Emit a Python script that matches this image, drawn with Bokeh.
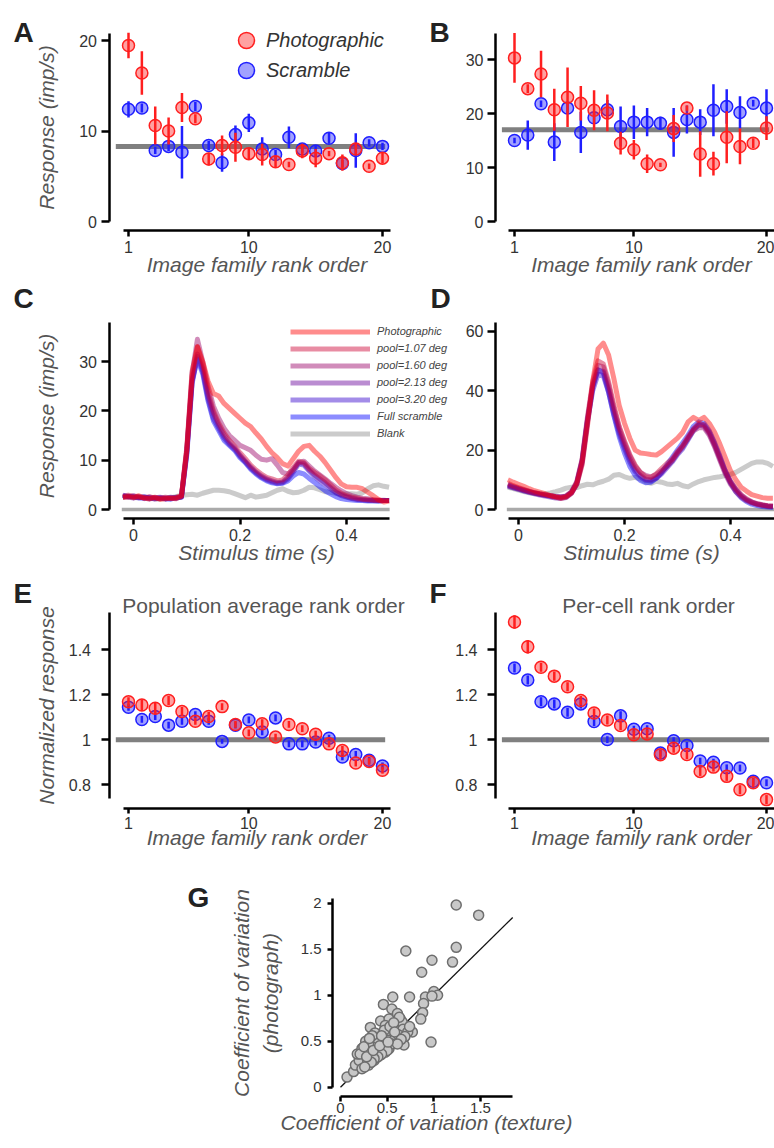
from bokeh.plotting import figure
from bokeh.models import (Label, Legend, LegendItem, ColumnDataSource, FixedTicker,
                          CustomJSTickFormatter, Range1d)
from bokeh.layouts import row, column
from bokeh.embed import file_html
from bokeh.resources import INLINE

# ---------------- data ----------------
rank = [1, 2, 3, 4, 5, 6, 7, 8, 9, 10, 11, 12, 13, 14, 15, 16, 17, 18, 19, 20]

A_photo = [19.45, 16.4, 10.6, 10.0, 12.6, 11.35, 6.9, 8.4, 8.2, 7.5, 7.4, 6.6, 6.3, 7.8, 7.0, 7.5, 6.5, 8.0, 6.1, 7.0]
A_photo_err = [1.4, 2.4, 2.1, 1.5, 1.6, 0.5, 0.7, 1.1, 1.6, 0.6, 1.2, 0.6, 0.3, 0.8, 1.0, 0.3, 0.9, 0.6, 0.3, 0.6]
A_scr = [12.4, 12.55, 7.85, 8.3, 7.65, 12.7, 8.4, 6.5, 9.6, 10.9, 8.0, 7.4, 9.3, 8.0, 7.8, 9.2, 6.4, 7.85, 8.7, 8.3]
A_scr_err = [0.9, 0.5, 0.4, 0.5, 2.9, 0.5, 0.5, 1.0, 1.0, 1.0, 1.3, 0.5, 1.2, 0.4, 0.6, 0.6, 0.4, 1.9, 0.4, 0.4]
A_mean = 8.3

B_photo = [30.3, 24.6, 27.3, 20.7, 23.0, 21.9, 20.6, 20.1, 14.5, 13.3, 10.7, 10.5, 17.2, 21.0, 12.5, 10.7, 15.6, 13.9, 14.5, 17.3]
B_photo_err = [4.6, 0.8, 4.3, 3.9, 5.5, 3.2, 3.7, 3.4, 2.1, 1.8, 1.7, 0.4, 2.5, 0.5, 4.2, 2.2, 4.8, 3.3, 0.9, 2.2]
B_scr = [15.0, 16.0, 21.8, 14.7, 21.0, 16.5, 19.2, 20.7, 17.6, 18.4, 18.4, 18.2, 16.5, 18.9, 18.4, 20.6, 21.3, 20.2, 21.9, 21.0]
B_scr_err = [0.5, 2.7, 0.6, 3.5, 1.0, 3.8, 1.0, 1.8, 3.7, 3.1, 2.6, 1.2, 4.5, 2.6, 2.4, 4.8, 3.2, 3.0, 0.6, 3.5]
B_mean = 17.0

E_photo = [1.169, 1.154, 1.14, 1.174, 1.125, 1.082, 1.103, 1.147, 1.068, 1.031, 1.071, 1.012, 1.068, 1.049, 1.025, 0.982, 0.953, 0.897, 0.904, 0.865]
E_photo_err = [0.02, 0.025, 0.025, 0.02, 0.02, 0.015, 0.02, 0.015, 0.015, 0.015, 0.02, 0.015, 0.015, 0.015, 0.015, 0.015, 0.02, 0.015, 0.015, 0.015]
E_scr = [1.144, 1.09, 1.103, 1.065, 1.082, 1.112, 1.082, 0.993, 1.065, 1.088, 1.035, 1.097, 0.982, 0.982, 0.99, 1.007, 0.924, 0.935, 0.909, 0.884]
E_scr_err = [0.015, 0.015, 0.015, 0.015, 0.015, 0.015, 0.015, 0.01, 0.015, 0.015, 0.015, 0.015, 0.015, 0.015, 0.015, 0.015, 0.015, 0.015, 0.015, 0.015]

F_photo = [1.522, 1.412, 1.321, 1.282, 1.235, 1.174, 1.119, 1.088, 1.063, 1.022, 1.026, 0.934, 0.963, 0.935, 0.86, 0.879, 0.838, 0.779, 0.81, 0.735]
F_photo_err = [0.03, 0.03, 0.02, 0.02, 0.02, 0.02, 0.02, 0.02, 0.02, 0.02, 0.02, 0.02, 0.02, 0.02, 0.02, 0.02, 0.02, 0.02, 0.02, 0.02]
F_scr = [1.318, 1.265, 1.169, 1.159, 1.122, 1.159, 1.081, 1.001, 1.106, 1.047, 1.049, 0.941, 0.996, 0.975, 0.906, 0.901, 0.876, 0.875, 0.816, 0.81]
F_scr_err = [0.02, 0.02, 0.02, 0.02, 0.02, 0.02, 0.02, 0.015, 0.02, 0.015, 0.015, 0.015, 0.015, 0.015, 0.015, 0.015, 0.015, 0.015, 0.015, 0.015]
EF_mean = 1.0

t = [-0.02, -0.01, 0.0, 0.01, 0.02, 0.03, 0.04, 0.05, 0.06, 0.07, 0.08, 0.09, 0.10,
     0.11, 0.12, 0.13, 0.14, 0.15, 0.16, 0.17, 0.18, 0.19, 0.20, 0.21, 0.22, 0.23,
     0.24, 0.25, 0.26, 0.27, 0.28, 0.29, 0.30, 0.31, 0.32, 0.33, 0.34, 0.35, 0.36,
     0.37, 0.38, 0.39, 0.40, 0.41, 0.42, 0.43, 0.44, 0.45, 0.46, 0.47, 0.48]

C_photo = [2.5, 2.6, 2.4, 2.8, 2.3, 2.2, 2.5, 2.1, 2.2, 2.3, 2.4, 2.8, 12.0, 27.0, 33.0, 30.0, 26.0, 23.5, 23.0, 21.5, 20.5, 19.5, 18.5, 17.5, 16.8, 15.5, 14.3, 12.8, 11.5, 10.5, 9.3, 8.8, 10.3, 11.8, 12.8, 13.0, 11.8, 10.8, 9.5, 8.0, 6.5, 5.2, 4.6, 4.5, 4.5, 4.2, 3.5, 2.8, 2.0, 1.5, 1.7]
C_p107 = [2.7, 2.9, 2.6, 2.5, 2.4, 2.6, 2.3, 2.2, 2.5, 2.3, 2.2, 2.7, 12.5, 28.0, 33.0, 29.5, 24.0, 20.0, 17.5, 15.5, 14.0, 12.8, 11.5, 10.3, 9.0, 8.0, 7.2, 6.5, 6.2, 5.8, 6.0, 7.0, 8.5, 9.8, 9.5, 8.3, 7.5, 6.8, 6.0, 5.0, 4.0, 3.3, 2.8, 2.5, 2.3, 2.1, 2.0, 1.9, 1.9, 1.8, 1.8]
C_p160 = [2.4, 2.6, 2.8, 2.5, 2.3, 2.1, 2.4, 2.5, 2.2, 2.4, 2.3, 2.6, 11.5, 27.5, 34.5, 30.0, 25.0, 21.0, 18.5, 16.5, 15.0, 14.0, 13.0, 12.5, 12.0, 11.0, 10.2, 10.0, 10.3, 9.0, 7.5, 7.2, 8.0, 9.5, 9.8, 8.8, 7.8, 7.0, 6.2, 5.3, 4.5, 3.8, 3.2, 2.8, 2.5, 2.3, 2.2, 2.0, 1.9, 1.9, 1.8]
C_p213 = [2.8, 2.5, 2.3, 2.6, 2.5, 2.4, 2.1, 2.3, 2.4, 2.2, 2.5, 2.6, 12.0, 26.0, 31.5, 28.5, 23.0, 19.5, 17.0, 15.0, 13.5, 12.5, 11.0, 9.8, 8.6, 7.6, 6.8, 6.2, 5.8, 5.5, 5.6, 6.5, 8.0, 9.5, 9.3, 8.0, 7.0, 6.2, 5.4, 4.5, 3.6, 3.0, 2.6, 2.3, 2.1, 2.0, 1.9, 1.9, 1.8, 1.8, 1.8]
C_p320 = [2.6, 2.7, 2.5, 2.3, 2.6, 2.2, 2.4, 2.3, 2.1, 2.5, 2.3, 2.5, 11.0, 25.5, 31.0, 28.0, 22.5, 18.5, 16.5, 14.5, 13.2, 12.2, 10.8, 9.6, 8.4, 7.4, 6.6, 6.0, 5.6, 5.3, 5.4, 6.2, 7.6, 9.2, 9.0, 7.8, 6.7, 5.8, 5.0, 4.2, 3.4, 2.8, 2.5, 2.2, 2.0, 1.9, 1.8, 1.8, 1.7, 1.8, 1.8]
C_full = [2.9, 2.6, 2.7, 2.4, 2.2, 2.5, 2.3, 2.4, 2.2, 2.1, 2.4, 2.5, 11.5, 26.0, 30.5, 27.5, 22.0, 18.0, 16.0, 14.0, 13.0, 12.0, 10.5, 9.5, 8.2, 7.2, 6.4, 5.8, 5.4, 5.2, 5.3, 5.8, 6.8, 7.5, 7.2, 6.3, 5.5, 4.6, 3.8, 3.2, 2.6, 2.2, 2.0, 1.9, 1.8, 1.8, 1.7, 1.7, 1.7, 1.8, 1.8]
C_blank = [2.5, 2.7, 2.4, 2.6, 2.5, 2.3, 2.2, 2.1, 2.3, 2.4, 2.6, 2.9, 3.0, 3.1, 2.9, 3.3, 3.6, 3.9, 3.9, 3.8, 3.6, 3.2, 2.8, 2.4, 2.9, 2.5, 2.7, 2.9, 3.4, 3.9, 4.2, 3.7, 3.4, 3.5, 3.9, 4.5, 4.4, 4.0, 3.6, 3.5, 3.3, 3.1, 3.2, 3.2, 3.1, 3.4, 4.2, 4.8, 5.0, 4.7, 4.5]

D_photo = [10.0, 9.2, 8.5, 7.8, 7.0, 6.3, 5.8, 5.3, 4.7, 4.2, 3.8, 4.2, 5.5, 8.5, 15.0, 28.0, 43.0, 54.0, 56.0, 52.0, 44.0, 35.0, 29.0, 24.0, 20.0, 19.0, 18.8, 18.5, 18.3, 19.5, 21.0, 22.5, 24.0, 26.0, 29.5, 31.0, 30.0, 31.0, 29.0, 26.0, 22.0, 17.5, 13.0, 10.0, 7.5, 6.2, 5.0, 4.5, 4.0, 3.8, 3.8]
D_p107 = [8.8, 8.0, 7.4, 6.8, 6.2, 5.7, 5.3, 5.0, 4.7, 4.4, 4.2, 4.6, 6.0, 9.5, 17.0, 31.0, 43.0, 50.0, 49.0, 43.0, 35.0, 28.0, 23.0, 18.5, 15.0, 12.5, 11.0, 10.8, 12.0, 13.8, 15.5, 17.0, 19.5, 21.5, 24.5, 27.0, 29.0, 28.5, 26.0, 22.0, 17.5, 13.0, 9.5, 7.0, 5.0, 3.6, 2.6, 2.0, 1.6, 1.3, 1.2]
D_p160 = [8.2, 7.6, 7.0, 6.5, 6.0, 5.6, 5.2, 4.9, 4.6, 4.3, 4.1, 4.4, 5.8, 9.0, 16.5, 30.0, 42.0, 48.5, 48.0, 42.0, 34.0, 27.5, 22.5, 18.0, 14.5, 12.5, 11.5, 11.0, 11.8, 13.0, 14.5, 16.5, 19.0, 21.5, 24.0, 26.5, 27.5, 27.5, 25.0, 21.0, 16.5, 12.0, 8.5, 6.0, 4.2, 3.0, 2.2, 1.7, 1.4, 1.2, 1.1]
D_p213 = [7.8, 7.3, 6.8, 6.3, 5.8, 5.3, 4.9, 4.5, 4.2, 3.9, 3.7, 4.0, 5.5, 8.5, 15.5, 29.0, 41.0, 47.0, 46.5, 40.5, 33.0, 26.5, 21.5, 17.0, 13.5, 11.5, 10.2, 10.0, 10.8, 12.5, 14.5, 16.5, 19.0, 21.0, 24.0, 27.0, 28.5, 28.0, 25.5, 21.5, 17.0, 12.5, 9.0, 6.5, 4.5, 3.2, 2.4, 1.8, 1.4, 1.1, 1.0]
D_p320 = [8.0, 7.4, 6.9, 6.3, 5.9, 5.5, 5.1, 4.8, 4.4, 4.1, 3.9, 4.3, 5.6, 8.8, 16.0, 29.5, 40.0, 45.5, 45.0, 39.5, 32.0, 25.5, 20.5, 16.0, 12.8, 11.0, 9.8, 9.6, 10.5, 12.0, 14.0, 16.0, 18.5, 20.5, 23.5, 26.5, 28.5, 28.5, 26.0, 22.0, 17.5, 13.0, 9.5, 6.8, 4.8, 3.4, 2.5, 1.9, 1.5, 1.2, 1.0]
D_full = [8.4, 7.7, 7.1, 6.6, 6.1, 5.6, 5.2, 4.9, 4.6, 4.4, 4.2, 4.5, 5.8, 9.0, 16.5, 30.0, 41.5, 47.0, 46.0, 39.5, 31.5, 24.5, 19.0, 14.5, 11.5, 9.8, 9.0, 9.2, 10.5, 12.5, 15.0, 17.5, 20.0, 22.5, 25.0, 28.0, 29.5, 29.0, 26.5, 22.5, 18.0, 13.0, 9.0, 6.0, 4.0, 2.7, 1.8, 1.3, 1.0, 0.8, 0.7]
D_blank = [7.5, 7.0, 6.5, 6.0, 5.6, 5.4, 5.2, 5.3, 5.6, 6.0, 6.5, 7.2, 7.5, 7.4, 8.0, 8.5, 8.3, 9.0, 9.5, 10.2, 11.5, 11.8, 11.0, 10.5, 10.8, 10.2, 9.2, 8.8, 9.5, 9.2, 8.6, 8.4, 8.8, 8.0, 7.6, 8.6, 9.4, 10.0, 10.4, 10.8, 11.0, 11.4, 11.8, 12.5, 13.5, 14.5, 15.5, 16.0, 16.0, 15.5, 14.5]

conditions = ["Photographic", "pool=1.07 deg", "pool=1.60 deg", "pool=2.13 deg",
              "pool=3.20 deg", "Full scramble", "Blank"]

cv_texture = [1.24, 1.48, 1.24, 0.70, 0.98, 1.20, 0.87, 1.00, 1.04, 0.74,
              0.91, 0.98, 0.89, 0.88, 0.86, 0.97, 0.56, 0.46, 0.43, 0.07,
              0.14, 0.16, 0.20, 0.18, 0.23, 0.27, 0.29, 0.30, 0.32, 0.37,
              0.55, 0.52, 0.61, 0.64, 0.63, 0.57, 0.54, 0.48, 0.46, 0.41,
              0.38, 0.34, 0.30, 0.39, 0.45, 0.50, 0.52, 0.59, 0.66, 0.68,
              0.77, 0.70, 0.66, 0.23, 0.30, 0.36, 0.43, 0.48, 0.52, 0.21,
              0.25, 0.34, 0.48, 0.63, 0.60, 0.67, 0.58, 0.55, 0.50, 0.44,
              0.40, 0.36, 0.33, 0.28, 0.26, 0.47, 0.53, 0.57, 0.62, 0.72,
              0.69, 0.65, 0.61, 0.35, 0.42, 0.31, 0.44, 0.51, 0.58, 0.74]
cv_photograph = [1.98, 1.87, 1.52, 1.48, 1.38, 1.36, 1.25, 1.04, 1.00, 0.98,
                 0.98, 0.99, 0.91, 0.81, 0.74, 0.49, 0.98, 0.90, 0.72, 0.11,
                 0.17, 0.24, 0.29, 0.36, 0.42, 0.50, 0.29, 0.38, 0.65, 0.59,
                 0.85, 0.74, 0.80, 0.74, 0.65, 0.65, 0.56, 0.58, 0.51, 0.53,
                 0.49, 0.44, 0.47, 0.40, 0.44, 0.45, 0.51, 0.56, 0.56, 0.46,
                 0.60, 0.65, 0.71, 0.20, 0.24, 0.29, 0.35, 0.38, 0.42, 0.36,
                 0.44, 0.56, 0.67, 0.76, 0.61, 0.63, 0.52, 0.47, 0.40, 0.36,
                 0.33, 0.31, 0.27, 0.33, 0.22, 0.62, 0.66, 0.70, 0.57, 0.60,
                 0.55, 0.52, 0.47, 0.40, 0.45, 0.53, 0.56, 0.49, 0.60, 0.66]

# ---------------- style ----------------
FONT = "Liberation Sans"
RED = "#ff1f1f"
BLUE = "#1f1fff"
COND_COLORS = ["#ff0000", "#cc0033", "#990066", "#660099", "#3300cc", "#0000ff", "#8c8c8c"]
fmt = CustomJSTickFormatter(code="return String(Number(tick.toFixed(3)))")

# canvas boxes in page pixels
ROW1, ROW2, ROW3, ROW4 = (0, 282), (282, 570), (570, 860), (860, 1148)
SPLIT1, SPLIT2, SPLIT3 = 455, 455, 452


def lin(pa, va, pb, vb):
    return lambda px: va + (px - pa) * (vb - va) / (pb - pa)


class Panel:
    def __init__(self, cx, cy, xcal, ycal, yaxis_px, xaxis_py, xb, yb):
        self.x0, self.x1 = cx
        self.y0, self.y1 = cy
        fx, fy = lin(*xcal), lin(*ycal)
        p = figure(width=self.x1 - self.x0, height=self.y1 - self.y0,
                   x_range=Range1d(fx(self.x0), fx(self.x1)),
                   y_range=Range1d(fy(self.y1), fy(self.y0)),
                   output_backend="svg", toolbar_location=None,
                   min_border_left=0, min_border_right=0,
                   min_border_top=0, min_border_bottom=0)
        p.title.visible = False
        p.outline_line_color = None
        p.grid.visible = False
        p.background_fill_color = "white"
        p.border_fill_color = "white"
        for ax in (p.xaxis[0], p.yaxis[0]):
            ax.axis_line_width = 2.5
            ax.axis_line_color = "black"
            ax.major_tick_line_width = 2.5
            ax.major_tick_line_color = "black"
            ax.major_tick_in = 0
            ax.minor_tick_line_color = None
            ax.major_label_text_font = FONT
            ax.major_label_text_font_size = "16px"
            ax.major_label_text_color = "#333333"
            ax.axis_label_text_font = FONT
            ax.axis_label_text_font_size = "21px"
            ax.axis_label_text_font_style = "italic"
            ax.axis_label_text_color = "#555555"
            ax.formatter = fmt
        p.yaxis[0].fixed_location = fx(yaxis_px)
        p.xaxis[0].fixed_location = fy(xaxis_py)
        p.xaxis[0].bounds = (fx(xb[0]), fx(xb[1]))
        p.yaxis[0].bounds = (fy(yb[0]), fy(yb[1]))
        self.p = p

    def axes(self, xticks, yticks, xlabel, ylabel,
             xtick=6, xstand=4, xlab=-3, ytick=8, ystand=4, ylab=19):
        xa, ya = self.p.xaxis[0], self.p.yaxis[0]
        xa.ticker = FixedTicker(ticks=xticks)
        ya.ticker = FixedTicker(ticks=yticks)
        xa.major_tick_out, xa.major_label_standoff = xtick, xstand
        ya.major_tick_out, ya.major_label_standoff = ytick, ystand
        xa.axis_label, xa.axis_label_standoff = xlabel, xlab
        ya.axis_label, ya.axis_label_standoff = ylabel, ylab

    def sx(self, px):
        return px - self.x0

    def sy(self, py):
        return self.y1 - py

    def letter(self, txt, px, py):
        self.p.add_layout(Label(x=self.sx(px), y=self.sy(py), x_units="screen",
                                y_units="screen", text=txt, text_font=FONT,
                                text_font_size="28px", text_font_style="bold",
                                text_color="#222222", text_baseline="alphabetic"))

    def title(self, txt, px, py):
        self.p.add_layout(Label(x=self.sx(px), y=self.sy(py), x_units="screen",
                                y_units="screen", text=txt, text_font=FONT,
                                text_font_size="21px", text_color="#555555",
                                text_align="center", text_baseline="middle"))

    def legend(self, items, px, py, **kw):
        self.p.add_layout(Legend(items=items, location=(self.sx(px), self.sy(py)),
                                 padding=0, margin=0, border_line_color=None,
                                 background_fill_alpha=0, label_text_font=FONT,
                                 label_text_font_style="italic", **kw))


def dot_panel(p, photo, photo_err, scr, scr_err, mean):
    p.segment(x0=[0.05], x1=[20.2], y0=[mean], y1=[mean], line_width=5,
              line_color="#808080")
    rs = []
    for vals, errs, col in ((scr, scr_err, BLUE), (photo, photo_err, RED)):
        src = ColumnDataSource(dict(x=rank, y=vals,
                                    lo=[v - e for v, e in zip(vals, errs)],
                                    hi=[v + e for v, e in zip(vals, errs)]))
        r = p.scatter("x", "y", source=src, size=12, fill_color=col, fill_alpha=0.42,
                      line_color=col, line_width=1.5)
        p.segment("x", "lo", "x", "hi", source=src, line_color=col, line_width=2.5)
        rs.append(r)
    return rs  # [scramble, photo]


def time_panel(p, series, x_end):
    p.segment(x0=[-0.022], x1=[x_end], y0=[0], y1=[0], line_width=3.5,
              line_color="#aaaaaa")
    rends = {}
    for i in [6, 5, 4, 3, 2, 1, 0]:
        rends[i] = p.line(t, series[i], line_width=5, line_color=COND_COLORS[i],
                          line_alpha=0.45, line_join="round")
    return [rends[i] for i in range(7)]


XCAL_L = (128, 1, 382, 20)
XCAL_R = (514, 1, 766, 20)

# ---- A ----
A = Panel((0, SPLIT1), ROW1, XCAL_L, (221, 0, 40, 20), 108.5, 230, (123, 390), (221, 33))
A.axes([1, 10, 20], [0, 10, 20], "Image family rank order", "Response (imp/s)")
rA = dot_panel(A.p, A_photo, A_photo_err, A_scr, A_scr_err, A_mean)
legkw = dict(glyph_width=40, glyph_height=40, label_standoff=0,
             label_text_font_size="20px", label_text_color="#333333")
A.legend([LegendItem(label="Photographic", renderers=[rA[1]])], 226, 60, **legkw)
A.legend([LegendItem(label="Scramble", renderers=[rA[0]])], 226, 90, **legkw)
A.letter("A", 13, 32)
A.letter("B", 429, 32)

# ---- B ----
B = Panel((SPLIT1, 774), ROW1, XCAL_R, (221, 0, 59, 30), 495, 230, (508, 780), (221, 33))
B.axes([1, 10, 20], [0, 10, 20, 30], "Image family rank order", None)
dot_panel(B.p, B_photo, B_photo_err, B_scr, B_scr_err, B_mean)

# ---- C ----
C = Panel((0, SPLIT2), ROW2, (133, 0, 346, 0.4), (509, 0, 361, 30), 108.5, 518,
          (123, 389), (509, 322))
C.axes([0, 0.2, 0.4], [0, 10, 20, 30], "Stimulus time (s)", "Response (imp/s)")
rC = time_panel(C.p, [C_photo, C_p107, C_p160, C_p213, C_p320, C_full, C_blank], 0.481)
C.legend([LegendItem(label=conditions[i], renderers=[rC[i]]) for i in range(7)],
         290, 441.5, glyph_width=80, glyph_height=17, spacing=0, label_standoff=7,
         label_text_font_size="11px", label_text_color="#444444")
C.letter("C", 13, 298)
C.letter("D", 430, 298)

# ---- D ----
D = Panel((SPLIT2, 774), ROW2, (518, 0, 730, 0.4), (509, 0, 330.7, 60), 495, 518,
          (508, 780), (509, 322))
D.axes([0, 0.2, 0.4], [0, 20, 40, 60], "Stimulus time (s)", None)
time_panel(D.p, [D_photo, D_p107, D_p160, D_p213, D_p320, D_full, D_blank], 0.5)

# ---- E ----
E = Panel((0, SPLIT3), ROW3, XCAL_L, (739.3, 1.0, 649, 1.4), 108.5, 808, (123, 390), (798, 612))
E.axes([1, 10, 20], [0.8, 1.0, 1.2, 1.4], "Image family rank order",
       "Normalized response", xtick=5, xstand=3, xlab=-6, ytick=8, ystand=10, ylab=8)
dot_panel(E.p, E_photo, E_photo_err, E_scr, E_scr_err, EF_mean)
E.letter("E", 13, 593)
E.letter("F", 429, 593)
E.title("Population average rank order", 263, 605)

# ---- F ----
F = Panel((SPLIT3, 774), ROW3, XCAL_R, (739.3, 1.0, 649, 1.4), 495, 808, (508, 780), (798, 612))
F.axes([1, 10, 20], [0.8, 1.0, 1.2, 1.4], "Image family rank order", None,
       xtick=5, xstand=3, xlab=-6, ytick=8, ystand=10, ylab=8)
dot_panel(F.p, F_photo, F_photo_err, F_scr, F_scr_err, EF_mean)
F.title("Per-cell rank order", 648, 605)

# ---- G ----
G = Panel((0, 774), ROW4, (340, 0, 480, 1.5), (1086.7, 0, 902.7, 2), 332, 1096,
          (340, 512), (1086.7, 898))
G.axes([0, 0.5, 1, 1.5], [0, 0.5, 1, 1.5, 2], "Coefficient of variation (texture)",
       "Coefficient of variation\n(photograph)",
       xtick=5, xstand=1, xlab=-5, ytick=5, ystand=6, ylab=16)
G.p.xaxis[0].major_label_text_font_size = "15px"
G.p.yaxis[0].major_label_text_font_size = "15px"
G.p.yaxis[0].axis_label_text_line_height = 1.25
G.p.segment(x0=[0], y0=[0], x1=[1.845], y1=[1.845], line_width=1.3, line_color="#111111")
G.p.scatter(cv_texture, cv_photograph, size=10, fill_color="#c8c8c8",
            line_color="#6e6e6e", line_width=1.5)
G.letter("G", 187, 897)

layout = column(row(A.p, B.p, spacing=0), row(C.p, D.p, spacing=0),
                row(E.p, F.p, spacing=0), G.p, spacing=0)

open("out.html", "w").write(file_html(layout, INLINE))
